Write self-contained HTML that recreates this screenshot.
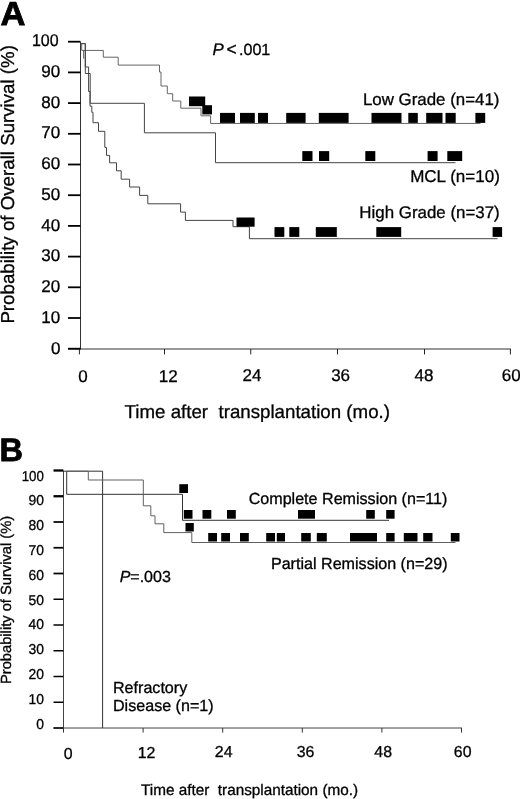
<!DOCTYPE html>
<html><head><meta charset="utf-8"><title>Figure</title>
<style>
html,body{margin:0;padding:0;background:#fff;}
body{width:520px;height:799px;overflow:hidden;}
svg{display:block;will-change:transform;}
svg text{font-family:"Liberation Sans",sans-serif;fill:#000;stroke:#000;stroke-width:0.3px;text-rendering:geometricPrecision;}
</style></head><body>
<svg width="520" height="799" viewBox="0 0 520 799">
<rect x="0" y="0" width="520" height="799" fill="#fff"/>
<line x1="80.50" y1="41.70" x2="80.50" y2="349.50" stroke="#333" stroke-width="1.0"/>
<line x1="68.00" y1="349.00" x2="510.90" y2="349.00" stroke="#333" stroke-width="1.0"/>
<line x1="68.00" y1="41.70" x2="80.40" y2="41.70" stroke="#000" stroke-width="1.8"/>
<line x1="68.00" y1="72.40" x2="80.40" y2="72.40" stroke="#000" stroke-width="1.8"/>
<line x1="68.00" y1="103.10" x2="80.40" y2="103.10" stroke="#000" stroke-width="1.8"/>
<line x1="68.00" y1="133.80" x2="80.40" y2="133.80" stroke="#000" stroke-width="1.8"/>
<line x1="68.00" y1="164.50" x2="80.40" y2="164.50" stroke="#000" stroke-width="1.8"/>
<line x1="68.00" y1="195.20" x2="80.40" y2="195.20" stroke="#000" stroke-width="1.8"/>
<line x1="68.00" y1="225.90" x2="80.40" y2="225.90" stroke="#000" stroke-width="1.8"/>
<line x1="68.00" y1="256.60" x2="80.40" y2="256.60" stroke="#000" stroke-width="1.8"/>
<line x1="68.00" y1="287.30" x2="80.40" y2="287.30" stroke="#000" stroke-width="1.8"/>
<line x1="68.00" y1="318.00" x2="80.40" y2="318.00" stroke="#000" stroke-width="1.8"/>
<line x1="68.00" y1="348.70" x2="80.40" y2="348.70" stroke="#000" stroke-width="1.8"/>
<line x1="79.40" y1="349.00" x2="79.40" y2="354.40" stroke="#222" stroke-width="1.0"/>
<line x1="164.50" y1="349.00" x2="164.50" y2="354.40" stroke="#222" stroke-width="1.0"/>
<line x1="250.75" y1="349.00" x2="250.75" y2="354.40" stroke="#222" stroke-width="1.0"/>
<line x1="337.50" y1="349.00" x2="337.50" y2="354.40" stroke="#222" stroke-width="1.0"/>
<line x1="424.50" y1="349.00" x2="424.50" y2="354.40" stroke="#222" stroke-width="1.0"/>
<line x1="510.40" y1="349.00" x2="510.40" y2="354.40" stroke="#222" stroke-width="1.0"/>
<text transform="translate(58.60,45.80) scale(0.940,1)" font-size="17" text-anchor="end" font-weight="normal" font-style="normal" >100</text>
<text x="60.10" y="77.20" font-size="17" text-anchor="end" font-weight="normal" font-style="normal" >90</text>
<text x="60.10" y="107.70" font-size="17" text-anchor="end" font-weight="normal" font-style="normal" >80</text>
<text x="60.10" y="138.40" font-size="17" text-anchor="end" font-weight="normal" font-style="normal" >70</text>
<text x="60.10" y="169.10" font-size="17" text-anchor="end" font-weight="normal" font-style="normal" >60</text>
<text x="60.10" y="199.80" font-size="17" text-anchor="end" font-weight="normal" font-style="normal" >50</text>
<text x="60.10" y="230.50" font-size="17" text-anchor="end" font-weight="normal" font-style="normal" >40</text>
<text x="60.10" y="261.20" font-size="17" text-anchor="end" font-weight="normal" font-style="normal" >30</text>
<text x="60.10" y="291.90" font-size="17" text-anchor="end" font-weight="normal" font-style="normal" >20</text>
<text x="60.10" y="322.60" font-size="17" text-anchor="end" font-weight="normal" font-style="normal" >10</text>
<text x="60.40" y="354.10" font-size="17" text-anchor="end" font-weight="normal" font-style="normal" >0</text>
<text x="83.10" y="381.80" font-size="17" text-anchor="middle" font-weight="normal" font-style="normal" >0</text>
<text x="168.20" y="381.80" font-size="17" text-anchor="middle" font-weight="normal" font-style="normal" >12</text>
<text x="251.90" y="380.60" font-size="17" text-anchor="middle" font-weight="normal" font-style="normal" >24</text>
<text x="340.60" y="380.60" font-size="17" text-anchor="middle" font-weight="normal" font-style="normal" >36</text>
<text x="424.00" y="380.70" font-size="17" text-anchor="middle" font-weight="normal" font-style="normal" >48</text>
<text x="511.20" y="380.70" font-size="17" text-anchor="middle" font-weight="normal" font-style="normal" >60</text>
<text x="124.60" y="418.20" font-size="18.72" text-anchor="start" font-weight="normal" font-style="normal" xml:space="preserve">Time after&#160; transplantation (mo.)</text>
<text transform="translate(14.2,323.6) rotate(-90)" font-size="18.7">Probability of Overall Survival (%)</text>
<text transform="translate(0.40,24.50) scale(1.035,1)" font-size="33.4" text-anchor="start" font-weight="bold" font-style="normal" style="stroke-width:0.8px">A</text>
<text x="212.40" y="54.80" font-size="16.8" text-anchor="start" font-weight="normal" font-style="italic" >P</text>
<text x="226.60" y="55.00" font-size="17.5" text-anchor="start" font-weight="normal" font-style="normal" >&lt;</text>
<text x="239.00" y="54.80" font-size="16.1" text-anchor="start" font-weight="normal" font-style="normal" >.001</text>
<text x="499.50" y="105.20" font-size="16.9" text-anchor="end" font-weight="normal" font-style="normal" >Low Grade (n=41)</text>
<text x="499.90" y="182.00" font-size="17.05" text-anchor="end" font-weight="normal" font-style="normal" >MCL (n=10)</text>
<text x="499.70" y="218.30" font-size="16.9" text-anchor="end" font-weight="normal" font-style="normal" >High Grade (n=37)</text>
<path d="M80.40 43.60 L81.70 43.60 L81.70 50.40 L103.30 50.40 L103.30 57.20 L118.20 57.20 L118.20 65.10 L159.50 65.10 L159.50 72.00 L161.00 72.00 L161.00 86.00 L167.30 86.00 L167.30 93.70 L172.70 93.70 L172.70 101.00 L180.80 101.00 L180.80 108.20 L201.00 108.20 L201.00 115.80 L210.60 115.80 L210.60 123.45 L480.50 123.45" fill="none" stroke="#666" stroke-width="1.0"/>
<path d="M80.40 43.60 L85.30 43.60 L85.30 73.50 L90.20 73.50 L90.20 103.30 L144.40 103.30 L144.40 132.80 L215.50 132.80 L215.50 162.70 L455.50 162.70" fill="none" stroke="#444" stroke-width="1.0"/>
<path d="M80.40 43.60 L85.30 43.60 L85.30 67.00 L88.60 67.00 L88.60 91.50 L90.00 91.50 L90.00 106.20 L91.80 106.20 L91.80 112.30 L93.00 112.30 L93.00 122.70 L98.50 122.70 L98.50 131.30 L104.80 131.30 L104.80 147.40 L106.50 147.40 L106.50 155.40 L109.60 155.40 L109.60 162.80 L116.50 162.80 L116.50 170.80 L121.20 170.80 L121.20 179.20 L129.60 179.20 L129.60 187.00 L139.60 187.00 L139.60 195.40 L147.80 195.40 L147.80 203.80 L180.60 203.80 L180.60 212.10 L185.40 212.10 L185.40 220.40 L233.00 220.40 L233.00 226.70 L249.40 226.70 L249.40 238.70 L497.50 238.70" fill="none" stroke="#444" stroke-width="1.0"/>
<path d="M83.60 50.40 L83.60 58.60" fill="none" stroke="#555" stroke-width="0.9"/>
<rect x="189.00" y="96.50" width="16.20" height="9.70" fill="#000"/>
<rect x="202.30" y="105.20" width="9.70" height="9.20" fill="#000"/>
<rect x="220.00" y="112.90" width="15.00" height="10.00" fill="#000"/>
<rect x="240.00" y="112.90" width="14.80" height="10.00" fill="#000"/>
<rect x="258.00" y="112.90" width="10.00" height="10.00" fill="#000"/>
<rect x="286.20" y="112.90" width="19.40" height="10.00" fill="#000"/>
<rect x="318.80" y="112.90" width="29.80" height="10.00" fill="#000"/>
<rect x="371.50" y="112.90" width="30.00" height="10.00" fill="#000"/>
<rect x="408.30" y="112.90" width="9.50" height="10.00" fill="#000"/>
<rect x="426.20" y="112.90" width="16.30" height="10.00" fill="#000"/>
<rect x="445.50" y="112.90" width="10.20" height="10.00" fill="#000"/>
<rect x="475.40" y="112.90" width="9.80" height="10.00" fill="#000"/>
<rect x="302.30" y="151.10" width="10.20" height="9.90" fill="#000"/>
<rect x="319.00" y="151.10" width="10.20" height="9.90" fill="#000"/>
<rect x="365.30" y="151.10" width="10.00" height="9.90" fill="#000"/>
<rect x="427.60" y="151.10" width="10.00" height="9.90" fill="#000"/>
<rect x="447.30" y="151.10" width="14.90" height="9.90" fill="#000"/>
<rect x="236.50" y="217.50" width="18.10" height="9.20" fill="#000"/>
<rect x="274.50" y="227.10" width="9.80" height="9.80" fill="#000"/>
<rect x="289.30" y="227.10" width="10.00" height="9.80" fill="#000"/>
<rect x="315.80" y="227.10" width="21.00" height="9.80" fill="#000"/>
<rect x="376.30" y="227.10" width="24.90" height="9.80" fill="#000"/>
<rect x="492.60" y="227.10" width="9.50" height="9.80" fill="#000"/>
<line x1="63.50" y1="470.50" x2="63.50" y2="728.50" stroke="#444" stroke-width="1.0"/>
<line x1="53.50" y1="728.00" x2="462.00" y2="728.00" stroke="#444" stroke-width="1.0"/>
<line x1="53.50" y1="470.50" x2="63.30" y2="470.50" stroke="#000" stroke-width="2.3"/>
<line x1="53.50" y1="496.25" x2="63.30" y2="496.25" stroke="#000" stroke-width="2.3"/>
<line x1="53.50" y1="522.00" x2="63.30" y2="522.00" stroke="#000" stroke-width="1.75"/>
<line x1="53.50" y1="547.75" x2="63.30" y2="547.75" stroke="#000" stroke-width="1.75"/>
<line x1="53.50" y1="573.50" x2="63.30" y2="573.50" stroke="#000" stroke-width="1.75"/>
<line x1="53.50" y1="599.25" x2="63.30" y2="599.25" stroke="#000" stroke-width="1.5"/>
<line x1="53.50" y1="625.00" x2="63.30" y2="625.00" stroke="#000" stroke-width="1.5"/>
<line x1="53.50" y1="650.75" x2="63.30" y2="650.75" stroke="#000" stroke-width="1.5"/>
<line x1="53.50" y1="676.50" x2="63.30" y2="676.50" stroke="#000" stroke-width="1.5"/>
<line x1="53.50" y1="702.25" x2="63.30" y2="702.25" stroke="#000" stroke-width="1.5"/>
<line x1="53.50" y1="728.00" x2="63.30" y2="728.00" stroke="#000" stroke-width="1.5"/>
<line x1="63.50" y1="728.00" x2="63.50" y2="732.60" stroke="#333" stroke-width="1.0"/>
<line x1="143.10" y1="728.00" x2="143.10" y2="732.60" stroke="#333" stroke-width="1.0"/>
<line x1="222.70" y1="728.00" x2="222.70" y2="732.60" stroke="#333" stroke-width="1.0"/>
<line x1="302.30" y1="728.00" x2="302.30" y2="732.60" stroke="#333" stroke-width="1.0"/>
<line x1="381.90" y1="728.00" x2="381.90" y2="732.60" stroke="#333" stroke-width="1.0"/>
<line x1="461.50" y1="728.00" x2="461.50" y2="732.60" stroke="#333" stroke-width="1.0"/>
<text transform="translate(43.90,480.50) scale(0.930,1)" font-size="14.3" text-anchor="end" font-weight="normal" font-style="normal" >100</text>
<text transform="translate(43.90,505.31) scale(0.970,1)" font-size="14.3" text-anchor="end" font-weight="normal" font-style="normal" >90</text>
<text transform="translate(43.90,530.13) scale(0.970,1)" font-size="14.3" text-anchor="end" font-weight="normal" font-style="normal" >80</text>
<text transform="translate(43.90,554.95) scale(0.970,1)" font-size="14.3" text-anchor="end" font-weight="normal" font-style="normal" >70</text>
<text transform="translate(43.90,579.76) scale(0.970,1)" font-size="14.3" text-anchor="end" font-weight="normal" font-style="normal" >60</text>
<text transform="translate(43.90,604.58) scale(0.970,1)" font-size="14.3" text-anchor="end" font-weight="normal" font-style="normal" >50</text>
<text transform="translate(43.90,629.39) scale(0.970,1)" font-size="14.3" text-anchor="end" font-weight="normal" font-style="normal" >40</text>
<text transform="translate(43.90,654.21) scale(0.970,1)" font-size="14.3" text-anchor="end" font-weight="normal" font-style="normal" >30</text>
<text transform="translate(43.90,679.02) scale(0.970,1)" font-size="14.3" text-anchor="end" font-weight="normal" font-style="normal" >20</text>
<text transform="translate(43.90,703.84) scale(0.970,1)" font-size="14.3" text-anchor="end" font-weight="normal" font-style="normal" >10</text>
<text transform="translate(43.90,728.65) scale(0.970,1)" font-size="14.3" text-anchor="end" font-weight="normal" font-style="normal" >0</text>
<text x="68.10" y="758.60" font-size="15.9" text-anchor="middle" font-weight="normal" font-style="normal" >0</text>
<text x="146.60" y="758.10" font-size="15.9" text-anchor="middle" font-weight="normal" font-style="normal" >12</text>
<text x="223.70" y="757.40" font-size="15.9" text-anchor="middle" font-weight="normal" font-style="normal" >24</text>
<text x="305.50" y="757.40" font-size="15.9" text-anchor="middle" font-weight="normal" font-style="normal" >36</text>
<text x="383.20" y="757.40" font-size="15.9" text-anchor="middle" font-weight="normal" font-style="normal" >48</text>
<text x="462.70" y="757.40" font-size="15.9" text-anchor="middle" font-weight="normal" font-style="normal" >60</text>
<text x="141.00" y="795.00" font-size="15.3" text-anchor="start" font-weight="normal" font-style="normal" xml:space="preserve">Time after&#160; transplantation (mo.)</text>
<text transform="translate(11.2,684.0) rotate(-90)" font-size="14.7">Probability of Survival (%)</text>
<text x="-0.60" y="460.70" font-size="32.5" text-anchor="start" font-weight="bold" font-style="normal" style="stroke-width:0.8px">B</text>
<text x="119.70" y="581.80" font-size="16" text-anchor="start" font-weight="normal" font-style="italic" >P</text>
<text x="130.30" y="581.80" font-size="16" text-anchor="start" font-weight="normal" font-style="normal" >=.003</text>
<text x="447.40" y="504.00" font-size="16.1" text-anchor="end" font-weight="normal" font-style="normal" >Complete Remission (n=11)</text>
<text x="447.60" y="568.70" font-size="16.1" text-anchor="end" font-weight="normal" font-style="normal" >Partial Remission (n=29)</text>
<text x="113.00" y="692.80" font-size="16.1" text-anchor="start" font-weight="normal" font-style="normal" >Refractory</text>
<text x="113.00" y="711.30" font-size="16.1" text-anchor="start" font-weight="normal" font-style="normal" >Disease (n=1)</text>
<path d="M63.30 471.20 L102.60 471.20 L102.60 728.00" fill="none" stroke="#333" stroke-width="1.0"/>
<path d="M66.70 471.20 L66.70 494.30 L182.50 494.30 L182.50 520.30 L389.00 520.30" fill="none" stroke="#333" stroke-width="1.0"/>
<path d="M66.70 471.20 L88.30 471.20 L88.30 480.00 L143.30 480.00 L143.30 505.80 L150.80 505.80 L150.80 515.80 L155.00 515.80 L155.00 523.80 L163.80 523.80 L163.80 532.60 L191.80 532.60 L191.80 542.50 L455.50 542.50" fill="none" stroke="#606060" stroke-width="1.0"/>
<rect x="179.30" y="484.20" width="8.70" height="8.80" fill="#000"/>
<rect x="183.80" y="510.00" width="8.70" height="8.70" fill="#000"/>
<rect x="202.50" y="510.00" width="8.80" height="8.70" fill="#000"/>
<rect x="227.00" y="510.00" width="8.80" height="8.70" fill="#000"/>
<rect x="298.00" y="510.00" width="17.00" height="8.70" fill="#000"/>
<rect x="366.20" y="510.00" width="8.60" height="8.70" fill="#000"/>
<rect x="386.20" y="510.00" width="8.40" height="8.70" fill="#000"/>
<rect x="185.50" y="523.00" width="8.30" height="8.50" fill="#000"/>
<rect x="208.20" y="533.00" width="8.80" height="8.50" fill="#000"/>
<rect x="221.20" y="533.00" width="8.80" height="8.50" fill="#000"/>
<rect x="240.00" y="533.00" width="8.80" height="8.50" fill="#000"/>
<rect x="266.20" y="533.00" width="8.80" height="8.50" fill="#000"/>
<rect x="276.80" y="533.00" width="8.20" height="8.50" fill="#000"/>
<rect x="301.20" y="533.00" width="9.60" height="8.50" fill="#000"/>
<rect x="316.80" y="533.00" width="10.00" height="8.50" fill="#000"/>
<rect x="350.00" y="533.00" width="27.00" height="8.50" fill="#000"/>
<rect x="386.20" y="533.00" width="8.40" height="8.50" fill="#000"/>
<rect x="403.80" y="533.00" width="13.70" height="8.50" fill="#000"/>
<rect x="423.20" y="533.00" width="9.30" height="8.50" fill="#000"/>
<rect x="450.80" y="533.00" width="8.70" height="8.50" fill="#000"/>
</svg>
</body></html>
